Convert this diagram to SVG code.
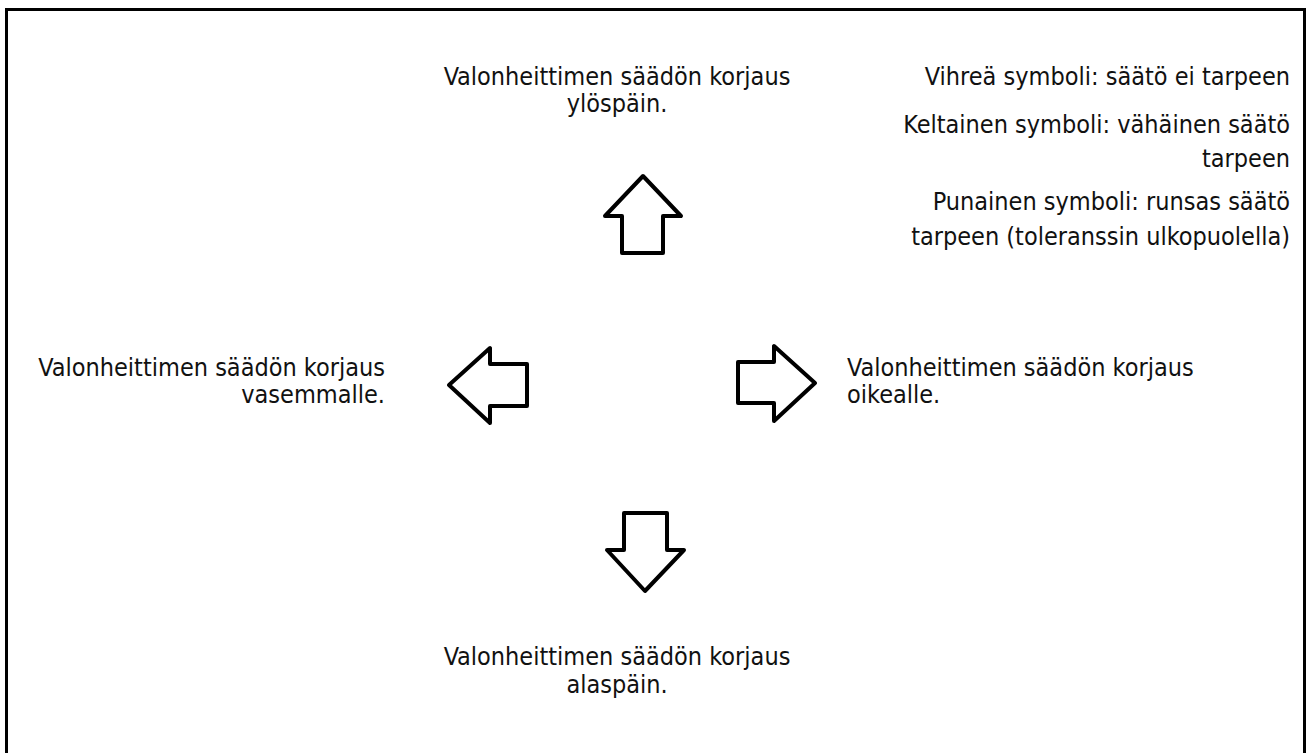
<svg xmlns="http://www.w3.org/2000/svg" width="1307" height="753" viewBox="0 0 1307 753">
<style>
.lbl{font-family:"DejaVu Sans Condensed","Liberation Sans",sans-serif;font-size:25px;fill:#111;}
.arr{fill:#fff;stroke:#000;stroke-width:4;stroke-linejoin:round;}
</style>
<rect x="0" y="0" width="1307" height="753" fill="#fff"/>
<rect x="6.5" y="9.5" width="1298" height="770" fill="none" stroke="#000" stroke-width="3"/>
<g id="up">
<path class="arr" d="M643,176 L681,216 L663,216 L663,253 L622,253 L622,216 L605,216 Z"/>
<text class="lbl" x="617" y="85" text-anchor="middle">Valonheittimen säädön korjaus</text>
<text class="lbl" x="617" y="112" text-anchor="middle">ylöspäin.</text>
</g>
<g id="left">
<path class="arr" d="M449,385 L490,348 L490,364 L527,364 L527,406 L490,406 L490,423 Z"/>
<text class="lbl" x="385" y="376" text-anchor="end">Valonheittimen säädön korjaus</text>
<text class="lbl" x="385" y="403" text-anchor="end">vasemmalle.</text>
</g>
<g id="right">
<path class="arr" d="M815,383 L774,346 L774,362 L738,362 L738,403 L774,403 L774,421 Z"/>
<text class="lbl" x="847" y="376">Valonheittimen säädön korjaus</text>
<text class="lbl" x="847" y="403">oikealle.</text>
</g>
<g id="down">
<path class="arr" d="M645,591 L684,550 L667,550 L667,513 L624,513 L624,550 L607,550 Z"/>
<text class="lbl" x="617" y="665" text-anchor="middle">Valonheittimen säädön korjaus</text>
<text class="lbl" x="617" y="693" text-anchor="middle">alaspäin.</text>
</g>
<g id="legend">
<text class="lbl" x="1290" y="85" text-anchor="end">Vihreä symboli: säätö ei tarpeen</text>
<text class="lbl" x="1290" y="133" text-anchor="end">Keltainen symboli: vähäinen säätö</text>
<text class="lbl" x="1290" y="167" text-anchor="end">tarpeen</text>
<text class="lbl" x="1290" y="210" text-anchor="end">Punainen symboli: runsas säätö</text>
<text class="lbl" x="1290" y="245" text-anchor="end">tarpeen (toleranssin ulkopuolella)</text>
</g>
<g id="connectors"></g>
</svg>
